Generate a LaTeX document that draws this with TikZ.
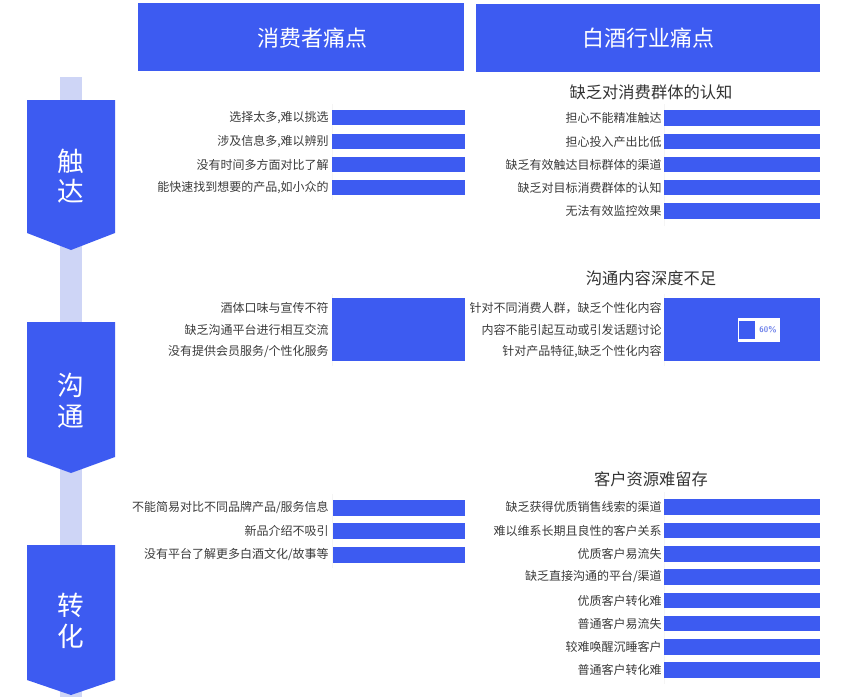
\documentclass[tikz,border=0pt]{standalone}
\usepackage{fontspec}
\usepackage{tikz}
\usepackage{xcolor}
\newfontfamily\cjk{Noto Sans CJK SC}
\definecolor{brand}{HTML}{3D5BF1}
\definecolor{track}{HTML}{CED5F6}
\definecolor{labelgray}{HTML}{3A3A3A}
\definecolor{titlegray}{HTML}{333333}
\definecolor{pctblue}{HTML}{6A7EEA}

\begin{document}
\begin{tikzpicture}[x=0.75pt,y=0.75pt,
  bar/.style={fill=brand},
  lbl/.style={anchor=east,inner sep=0pt,text=labelgray,font=\cjk\fontsize{9}{10}\selectfont},
  hdr/.style={text=white,font=\cjk\fontsize{16.5}{18}\selectfont},
  sectitle/.style={text=titlegray,font=\cjk\fontsize{12.2}{13}\selectfont},
  stagetext/.style={text=white,align=center,font=\cjk\fontsize{20}{23}\selectfont}]
\useasboundingbox (0,0) rectangle (844,-697);
% track behind the stages
\fill[track] (60,-77) rectangle (82,-697);
% headers
\fill[brand] (138,-3) rectangle (464,-71);
\node[hdr] (hdrConsumer) at (312,-38) {消费者痛点};
\fill[brand] (476,-4) rectangle (820,-72);
\node[hdr] (hdrIndustry) at (648,-38) {白酒行业痛点};
% stages
\fill[brand] (27,-100) -- (115,-100) -- (115,-233) -- (71,-250) -- (27,-233) -- cycle;
\node[stagetext] (stageTouch) at (71,-176) {触\\达};
\fill[brand] (27,-322) -- (115,-322) -- (115,-457) -- (71,-473) -- (27,-457) -- cycle;
\node[stagetext] (stageTalk) at (71,-401) {沟\\通};
\fill[brand] (27,-545) -- (115,-545) -- (115,-680) -- (71,-695) -- (27,-680) -- cycle;
\node[stagetext] (stageConvert) at (71,-621) {转\\化};
% faint axes
\draw[gray!8] (332,-104) -- (332,-200);
\draw[gray!8] (664,-104) -- (664,-226);
\draw[gray!8] (332,-294) -- (332,-366);
\draw[gray!8] (664,-294) -- (664,-366);
\draw[gray!8] (332,-494) -- (332,-568);
\draw[gray!8] (664,-492) -- (664,-684);
% touch: consumer
\fill[bar] (332,-109.8) rectangle (465,-125.3);
\node[lbl] (c1a) at (329,-117.5) {选择太多,难以挑选};
\fill[bar] (332,-133.8) rectangle (465,-149.3);
\node[lbl] (c1b) at (329,-141.5) {涉及信息多,难以辨别};
\fill[bar] (332,-156.8) rectangle (465,-172.3);
\node[lbl] (c1c) at (329,-164.5) {没有时间多方面对比了解};
\fill[bar] (332,-179.8) rectangle (465,-195.3);
\node[lbl] (c1d) at (329,-187.5) {能快速找到想要的产品,如小众的};
% touch: industry
\node[sectitle] (t1) at (651,-92) {缺乏对消费群体的认知};
\fill[bar] (664,-110.2) rectangle (820,-125.8);
\node[lbl] (i1a) at (662,-118) {担心不能精准触达};
\fill[bar] (664,-133.8) rectangle (820,-149.3);
\node[lbl] (i1b) at (662,-141.5) {担心投入产出比低};
\fill[bar] (664,-156.8) rectangle (820,-172.3);
\node[lbl] (i1c) at (662,-164.5) {缺乏有效触达目标群体的渠道};
\fill[bar] (664,-179.8) rectangle (820,-195.3);
\node[lbl] (i1d) at (662,-187.5) {缺乏对目标消费群体的认知};
\fill[bar] (664,-203.2) rectangle (820,-218.8);
\node[lbl] (i1e) at (662,-211) {无法有效监控效果};
% talk: consumer
\fill[bar] (332,-298) rectangle (465,-361);
\node[lbl] (c2a) at (329,-308) {酒体口味与宣传不符};
\node[lbl] (c2b) at (329,-330) {缺乏沟通平台进行相互交流};
\node[lbl] (c2c) at (329,-352) {没有提供会员服务/个性化服务};
% talk: industry
\node[sectitle] (t2) at (651,-278) {沟通内容深度不足};
\fill[bar] (664,-298) rectangle (820,-361);
\node[lbl] (i2a) at (662,-308) {针对不同消费人群，缺乏个性化内容};
\node[lbl] (i2b) at (662,-330) {内容不能引起互动或引发话题讨论};
\node[lbl] (i2c) at (662,-352) {针对产品特征,缺乏个性化内容};
\fill[white] (738,-318) rectangle (780,-342);
\fill[brand] (739.2,-321) rectangle (755,-338.5);
\node[text=pctblue,font=\sffamily\bfseries\fontsize{6}{7}\selectfont,inner sep=0pt] (pct) at (768,-330) {60\%};
% convert: consumer
\fill[bar] (333,-500) rectangle (465,-515.7);
\node[lbl] (c3a) at (329,-507.5) {不能简易对比不同品牌产品/服务信息};
\fill[bar] (333,-523.2) rectangle (465,-539);
\node[lbl] (c3b) at (329,-531) {新品介绍不吸引};
\fill[bar] (333,-546.8) rectangle (465,-563);
\node[lbl] (c3c) at (329,-554.5) {没有平台了解更多白酒文化/故事等};
% convert: industry
\node[sectitle] (t3) at (651,-479.5) {客户资源难留存};
\fill[bar] (664,-499) rectangle (820,-515);
\node[lbl] (i3a) at (662,-507) {缺乏获得优质销售线索的渠道};
\fill[bar] (664,-522.7) rectangle (820,-538.3);
\node[lbl] (i3b) at (662,-530.5) {难以维系长期且良性的客户关系};
\fill[bar] (664,-546.2) rectangle (820,-561.8);
\node[lbl] (i3c) at (662,-554) {优质客户易流失};
\fill[bar] (664,-569.2) rectangle (820,-584.8);
\node[lbl] (i3d) at (662,-577) {缺乏直接沟通的平台/渠道};
\fill[bar] (664,-592.7) rectangle (820,-608.3);
\node[lbl] (i3e) at (662,-600.5) {优质客户转化难};
\fill[bar] (664,-615.7) rectangle (820,-631.3);
\node[lbl] (i3f) at (662,-623.5) {普通客户易流失};
\fill[bar] (664,-639.2) rectangle (820,-654.8);
\node[lbl] (i3g) at (662,-647) {较难唤醒沉睡客户};
\fill[bar] (664,-662.2) rectangle (820,-677.8);
\node[lbl] (i3h) at (662,-670) {普通客户转化难};
\end{tikzpicture}
\end{document}
